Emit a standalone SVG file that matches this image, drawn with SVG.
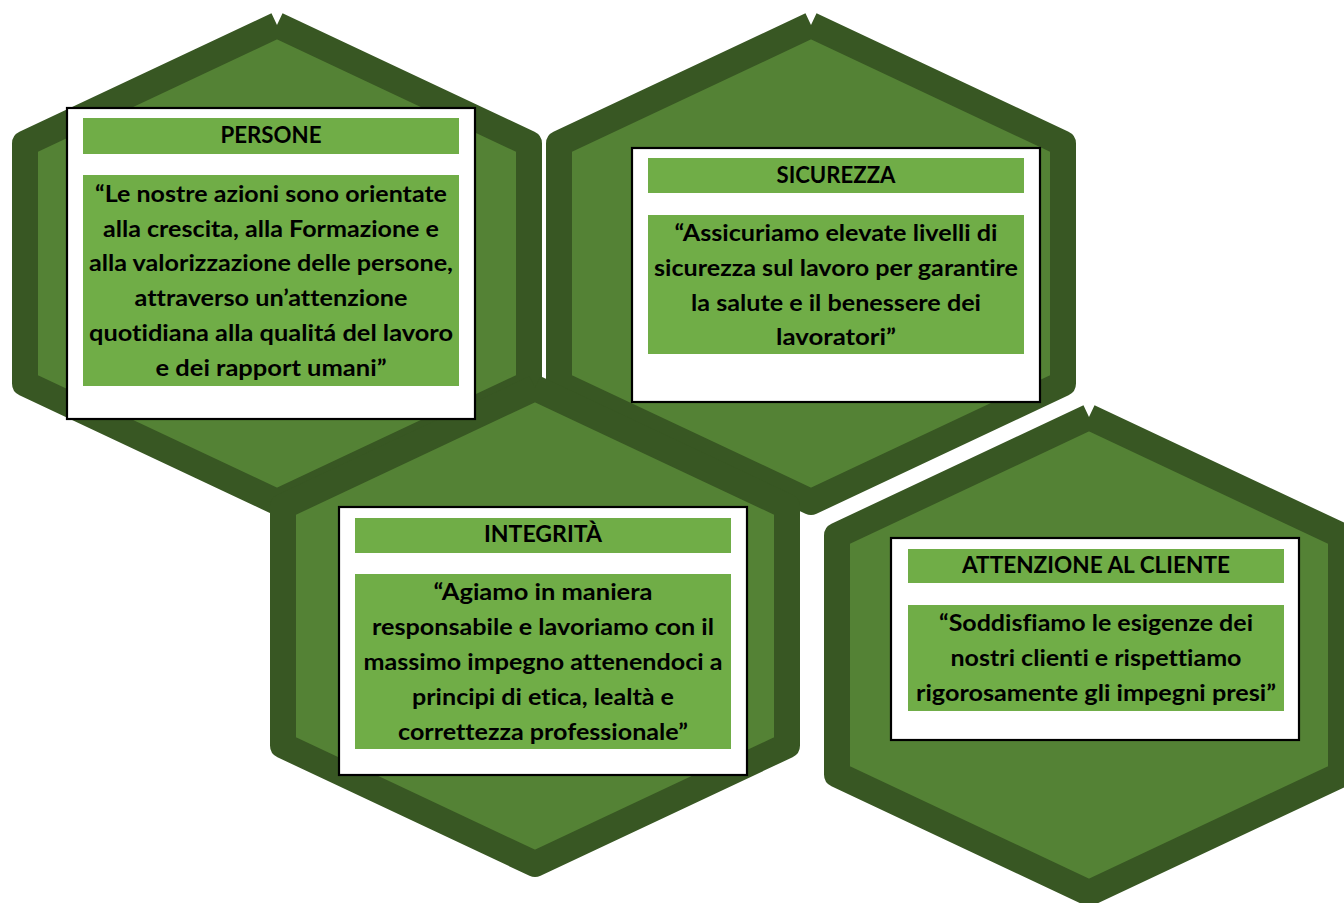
<svg xmlns="http://www.w3.org/2000/svg" width="1344" height="903" viewBox="0 0 1344 903">
<style>
.hex{fill:#548235;stroke:#385723;stroke-width:26;stroke-linejoin:round;stroke-linecap:butt}
.box{fill:#ffffff;stroke:#000000;stroke-width:2.2}
.bar{fill:#70ad47}
.t{font-family:Lato,"Liberation Sans",Arial,sans-serif;font-weight:700;font-size:23px;fill:#000000;text-anchor:middle;font-variant-ligatures:none}
</style>
<rect x="0" y="0" width="1344" height="903" fill="#ffffff"/>
<g id="hexagons">
<path id="hex-persone" class="hex" d="M277,25 L529,143.5 L529,383.5 L277,502 L25,383.5 L25,143.5 L277,25"/>
<path id="hex-sicurezza" class="hex" d="M811,25 L1063,143.5 L1063,383.5 L811,502 L559,383.5 L559,143.5 L811,25"/>
<path id="hex-integrita" class="hex" d="M535,388 L787,506.5 L787,745.5 L535,864 L283,745.5 L283,506.5 L535,388"/>
<path id="hex-cliente" class="hex" d="M1089,417 L1341,535.5 L1341,774.5 L1089,893 L837,774.5 L837,535.5 L1089,417"/>
</g>
<g id="node-persone">
<rect class="box" x="67" y="108" width="408" height="311"/>
<rect class="bar" x="83" y="118" width="376" height="36"/>
<rect class="bar" x="83" y="175" width="376" height="211"/>
<text class="t" x="271" y="143" textLength="101" lengthAdjust="spacingAndGlyphs">PERSONE</text>
<text class="t" x="271" y="201.7" textLength="352" lengthAdjust="spacingAndGlyphs">“Le nostre azioni sono orientate</text>
<text class="t" x="271" y="236.5" textLength="336" lengthAdjust="spacingAndGlyphs">alla crescita, alla Formazione e</text>
<text class="t" x="271" y="271.3" textLength="364" lengthAdjust="spacingAndGlyphs">alla valorizzazione delle persone,</text>
<text class="t" x="271" y="306.1" textLength="273" lengthAdjust="spacingAndGlyphs">attraverso un’attenzione</text>
<text class="t" x="271" y="340.9" textLength="364" lengthAdjust="spacingAndGlyphs">quotidiana alla qualitá del lavoro</text>
<text class="t" x="271" y="375.7" textLength="231" lengthAdjust="spacingAndGlyphs">e dei rapport umani”</text>
</g>
<g id="node-sicurezza">
<rect class="box" x="632" y="148" width="408" height="254"/>
<rect class="bar" x="648" y="158" width="376" height="35"/>
<rect class="bar" x="648" y="215" width="376" height="139"/>
<text class="t" x="836" y="183" textLength="119" lengthAdjust="spacingAndGlyphs">SICUREZZA</text>
<text class="t" x="836" y="240.7" textLength="323" lengthAdjust="spacingAndGlyphs">“Assicuriamo elevate livelli di</text>
<text class="t" x="836" y="275.6" textLength="364" lengthAdjust="spacingAndGlyphs">sicurezza sul lavoro per garantire</text>
<text class="t" x="836" y="310.5" textLength="290" lengthAdjust="spacingAndGlyphs">la salute e il benessere dei</text>
<text class="t" x="836" y="345.3" textLength="120" lengthAdjust="spacingAndGlyphs">lavoratori”</text>
</g>
<g id="node-integrita">
<rect class="box" x="339" y="507" width="408" height="268"/>
<rect class="bar" x="355" y="518" width="376" height="35"/>
<rect class="bar" x="355" y="574" width="376" height="175"/>
<text class="t" x="543" y="542" textLength="118" lengthAdjust="spacingAndGlyphs">INTEGRITÀ</text>
<text class="t" x="543" y="600" textLength="219" lengthAdjust="spacingAndGlyphs">“Agiamo in maniera</text>
<text class="t" x="543" y="634.9" textLength="342" lengthAdjust="spacingAndGlyphs">responsabile e lavoriamo con il</text>
<text class="t" x="543" y="669.7" textLength="359" lengthAdjust="spacingAndGlyphs">massimo impegno attenendoci a</text>
<text class="t" x="543" y="704.6" textLength="262" lengthAdjust="spacingAndGlyphs">principi di etica, lealtà e</text>
<text class="t" x="543" y="739.5" textLength="290" lengthAdjust="spacingAndGlyphs">correttezza professionale”</text>
</g>
<g id="node-cliente">
<rect class="box" x="891" y="538" width="408" height="202"/>
<rect class="bar" x="908" y="549" width="376" height="34"/>
<rect class="bar" x="908" y="605" width="376" height="106"/>
<text class="t" x="1096" y="573" textLength="268" lengthAdjust="spacingAndGlyphs">ATTENZIONE AL CLIENTE</text>
<text class="t" x="1096" y="630.8" textLength="314" lengthAdjust="spacingAndGlyphs">“Soddisfiamo le esigenze dei</text>
<text class="t" x="1096" y="665.7" textLength="291" lengthAdjust="spacingAndGlyphs">nostri clienti e rispettiamo</text>
<text class="t" x="1096" y="700.5" textLength="360" lengthAdjust="spacingAndGlyphs">rigorosamente gli impegni presi”</text>
</g>
</svg>
